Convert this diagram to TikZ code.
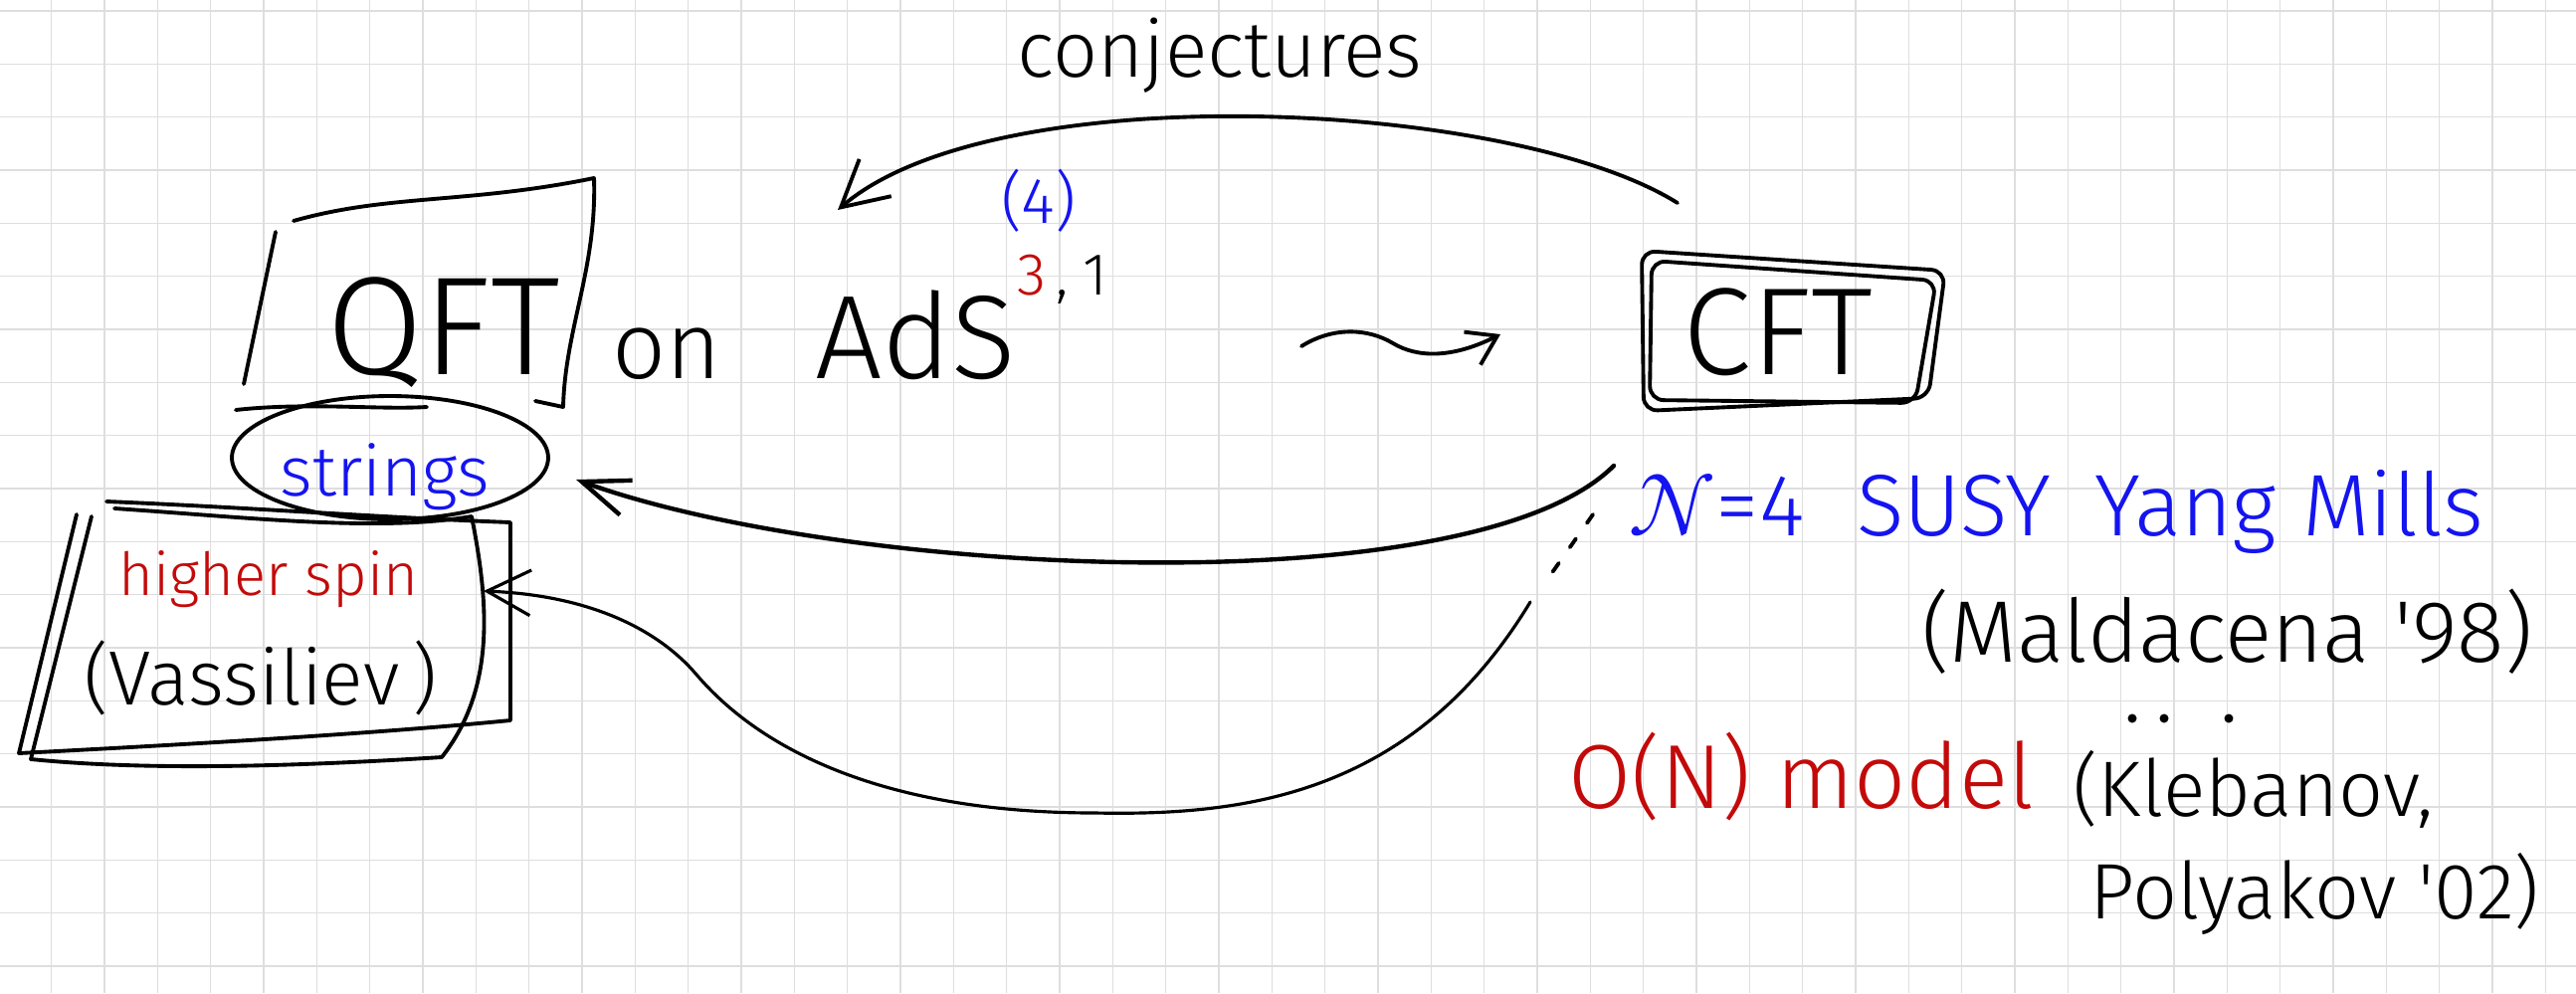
\documentclass[tikz,border=0pt]{standalone}
\usepackage{fontspec}
\setmainfont{Fira Sans Light}
\usepackage{unicode-math}
\setmathfont{Latin Modern Math}
\usetikzlibrary{arrows.meta,shapes.geometric}
\definecolor{hwgrid}{RGB}{222,222,222}
\definecolor{hwblue}{RGB}{20,20,240}
\definecolor{hwred}{RGB}{195,10,10}
\newcommand{\hwsize}[1]{\fontsize{#1pt}{#1pt}\selectfont}

\begin{document}
\begin{tikzpicture}[x=0.02cm, y=-0.02cm,
    gridline/.style={hwgrid, line width=0.8pt},
    pen/.style={line width=2.2pt, line cap=round, line join=round},
    thinpen/.style={line width=1.8pt, line cap=round, line join=round},
    hw/.style={inner sep=0pt}]
  \useasboundingbox (0,0) rectangle (2589,998);
  \fill[white] (0,0) rectangle (2589,998);
  % squared paper
  \foreach \k in {0,...,47}
    \draw[gridline] ({51.7+53.33*\k},0) -- ++(0,998);
  \foreach \k in {0,...,18}
    \draw[gridline] (0,{11+53.33*\k}) -- ++(2589,0);

  % bulk side
  \node[hw, font=\hwsize{80}, anchor=base] (qft) at (446,376) {QFT};
  \node[hw, font=\hwsize{54}, anchor=base] (on) at (670,380) {on};
  \node[hw, font=\hwsize{68}, anchor=base west] (ads) at (819,380) {AdS};
  \node[hw, font=\hwsize{34}, anchor=base west] (dim) at (1022,296) {\textcolor{hwred}{3}\,,\hspace{0.25em}1};
  \node[hw, font=\hwsize{37}, text=hwblue] (four) at (1044,202) {(4)};
  \draw[pen] (295,222) .. controls (390,195) and (470,205) .. (597,179)
    .. controls (600,270) and (568,330) .. (566,409) -- (538,403);
  \draw[pen] (277,233) -- (245,386);
  \draw[pen] (237,412) .. controls (310,404) and (380,412) .. (429,409);

  \node[ellipse, draw, pen, minimum width=6.36cm, minimum height=2.48cm] (bubble) at (392,460) {};
  \node[hw, font=\hwsize{40}, text=hwblue, anchor=base] (strings) at (387,498) {strings};

  \node[hw, font=\hwsize{34}, text=hwred, anchor=base] (hspin) at (270,598) {higher spin};
  \node[hw, font=\hwsize{44}, anchor=base] (vass) at (262,708) {(Vassiliev\,)};
  \draw[pen] (107,504) .. controls (250,510) and (380,520) .. (513,525) -- (513,724)
    .. controls (400,735) and (250,745) .. (19,757) -- (77,517);
  \draw[pen] (115,511) .. controls (250,520) and (380,535) .. (474,519)
    .. controls (490,600) and (500,690) .. (444,761)
    .. controls (300,770) and (150,775) .. (31,763) -- (92,519);

  % boundary side
  \node[hw, font=\hwsize{71}, anchor=base] (cft) at (1787,376) {CFT};
  \draw[pen, rounded corners=8] (1650,252) -- (1955,272) -- (1938,400) -- (1652,413) -- cycle;
  \draw[pen, rounded corners=8] (1660,262) -- (1946,282) -- (1925,405) -- (1658,402) -- cycle;

  \node[hw, font=\hwsize{50}, text=hwblue, anchor=base west] (sym) at (1636,538)
    {$\mathcal{N}$=4\hspace{0.6em}SUSY\hspace{0.5em}Yang\hspace{0.3em}Mills};
  \node[hw, font=\hwsize{50}, anchor=base west] (mald) at (1931,665) {(Maldacena \textquotesingle98)};
  \foreach \x in {2143,2175,2240}
    \fill (\x,722) circle (4.5);
  \node[hw, font=\hwsize{52}, text=hwred, anchor=base west] (onmodel) at (1576,812) {O(N) model};
  \node[hw, font=\hwsize{45}, anchor=base west] (kleb) at (2083,820) {(Klebanov,};
  \node[hw, font=\hwsize{45}, anchor=base west] (poly) at (2100,923) {Polyakov \textquotesingle02)};
  \node[hw, font=\hwsize{45}, anchor=base] (conj) at (1226,77) {conjectures};

  % arrows
  \coordinate (conjS) at (1686,204);
  \coordinate (conjE) at (842,211);
  \coordinate (sqS) at (1308,348);
  \coordinate (sqE) at (1508,336);
  \coordinate (midS) at (1622,468);
  \coordinate (midE) at (579,482);
  \coordinate (dashS) at (1601,517);
  \coordinate (dashE) at (1554,584);
  \coordinate (lowS) at (1538,605);
  \coordinate (lowE) at (486,594);
  \draw[pen, -{Straight Barb[length=26pt,width=28pt]}] (conjS)
    .. controls (1520,100) and (1000,75) .. (conjE);
  \draw[pen, -{Straight Barb[length=16pt,width=21pt]}] (sqS)
    .. controls (1340,328) and (1375,330) .. (1400,345)
    .. controls (1425,360) and (1460,360) .. (sqE);
  \draw[pen, line width=2.5pt, -{Straight Barb[length=27pt,width=21pt]}] (midS)
    .. controls (1480,610) and (850,580) .. (midE);
  \draw[pen, dash pattern=on 6pt off 11pt] (dashS) -- (dashE);
  \draw[thinpen, -{Straight Barb[length=25pt,width=26pt]}] (lowS)
    .. controls (1420,800) and (1250,820) .. (1100,817)
    .. controls (900,817) and (770,760) .. (700,678)
    .. controls (660,631) and (590,598) .. (lowE);
\end{tikzpicture}
\end{document}
